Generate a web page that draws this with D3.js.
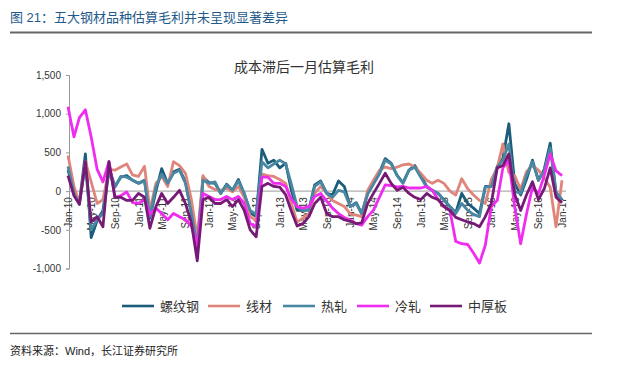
<!DOCTYPE html>
<html>
<head>
<meta charset="utf-8">
<script src="https://cdn.jsdelivr.net/npm/d3@7"></script>
<style>
  body { margin: 0; background: #fff; }
  svg { display: block; }
</style>
</head>
<body>
<div id="chart"></div>
<script>
// monthly estimates, Jan-10 .. Jan-17 (85 points)
var seriesNames = ["螺纹钢", "线材", "热轧", "冷轧", "中厚板"];
var seriesColors = ["#1b5d7a", "#e0857b", "#4a87a2", "#f02cf0", "#761a76"];

var rebar = [
  270, 0, -150, 480, -600, -380, -250, 300, 60, 180, 200, 140,
  100, 140, -350, 0, 290, 100, 250, 280, 120, -250, -750, 180,
  110, 100, -30, 90, 10, 150, -30, -280, -330, 540, 360, 400,
  300, 360, 20, -250, -250, -240, 80, 130, -30, -50, 130, 60,
  -200, -150, -290, -30, 100, 240, 420, 360, 200, 110, 270, 330,
  200, 60, 10, -30, -110, -200, -280, -30, -160, -220, -290, 60,
  60, 320, 420, 870, 100, -50, 150, 400, 140, 280, 620, -30,
  -120
];
var wire = [
  460, 60, -150, 380, 120, -160, -110, 280, 270, 310, 350, 210,
  190, 320, -250, 100, 190, 60, 380, 330, 230, -100, -600, 200,
  60, 20, 10, 40, -10, 60, -80, -330, -380, 220, 200, 190,
  150, 100, -150, -400, -350, -290, -30, 60, -30, -120, -160, -200,
  -290, -310, -330, 10, 140, 270, 310, 290, 310, 340, 350, 310,
  230, 140, 100, 140, 100, 0, -50, 160, 30, -50, -120, -160,
  150, 300, 610, 240, 200, 20, 250, 330, 270, 170, 50, -460,
  140
];
var hotRolled = [
  320, -30, -170, 350, -500, -370, -290, 250, 50, 190, 180, 140,
  100, 130, -330, 50, 220, 100, 230, 270, 100, -280, -700, 140,
  100, 120, -30, 80, 10, 130, -30, -250, -300, 380, 300, 350,
  400, 350, 100, -200, -250, -250, 60, 120, -30, -80, 10, -10,
  -200, -160, -290, -40, 90, 220, 400, 350, 200, 100, 270, 310,
  180, 50, 10, -30, -120, -200, -290, -160, -250, -300, -330, 50,
  60, 310, 400, 610, 0, -30, 200, 380, 140, 260, 560, -10,
  -110
];
var coldRolled = [
  1090, 700, 950, 1050, 700, 280, 120, 380, -80, -60, -10, -150,
  -160, -110, -300, -220, -290, -370, -290, -330, -370, -450, -700, -30,
  -70, -110, -110, -70, -110, -70, -160, -420, -460, 180, 180, 100,
  100, 60, -100, -200, -220, -200, -70, -30, -130, -220, -290, -340,
  -375, -420, -440, -330, -245, -80, 80, 70, 55, 60, 40, 40,
  40, 60, 10, -110, -200, -250, -650, -680, -690, -800, -930, -700,
  -200, -120, 300, 400, -200, -680, -300, 50, -30, 200, 480, 260,
  200
];
var plate = [
  200, -60, -170, 380, -400, -330, -460, 380, -80, -80, -120, -120,
  -30, -80, -480, -200, -30, -160, -80, 10, -160, -400, -900, -110,
  -80, -160, -160, -110, -200, -110, -250, -500, -590, 60, 100, 60,
  50, -50, -250, -450, -420, -330, -160, -80, -290, -330, -330, -370,
  -390, -420, -410, -160, -30, 100, 230, 100, 10, 50, -30, -80,
  -110, -30, -80, -110, -200, -250, -340, -370, -400, -420, -460, -330,
  -160, 300, 330, 480, -40, -250, -50, 120, -110, 30, 300, -80,
  -150
];
var yTicks = [-1000, -500, 0, 500, 1000, 1500];

var allSeries = [rebar, wire, hotRolled, coldRolled, plate];
var months = d3.timeMonth.range(new Date(2010, 0, 1), new Date(2017, 1, 1));
var xTickDates = d3.timeMonth.every(4).range(new Date(2010, 0, 1), new Date(2017, 0, 2));

var W = 620, H = 365;
var font = "'Liberation Sans', Arial, 'Noto Sans CJK SC', sans-serif";

var svg = d3.select("#chart").append("svg")
  .attr("width", W)
  .attr("height", H)
  .style("font-family", font);

svg.append("rect").attr("width", W).attr("height", H).attr("fill", "#fff");

// header
svg.append("text")
  .attr("x", 10)
  .attr("y", 22)
  .attr("fill", "#1f5a8a")
  .attr("font-size", 13)
  .text("图 21：五大钢材品种估算毛利并未呈现显著差异");

svg.append("line")
  .attr("x1", 10).attr("x2", 592)
  .attr("y1", 32.5).attr("y2", 32.5)
  .attr("stroke", "#666").attr("stroke-width", 2);

// chart title
svg.append("text")
  .attr("x", 304)
  .attr("y", 72)
  .attr("text-anchor", "middle")
  .attr("fill", "#333")
  .attr("font-size", 14)
  .text("成本滞后一月估算毛利");

var x = d3.scaleTime()
  .domain([new Date(2010, 0, 1), new Date(2017, 0, 1)])
  .range([68, 562]);

var y = d3.scaleLinear()
  .domain([-1000, 1500])
  .range([268.5, 75]);

// y axis
var yAxis = svg.append("g")
  .attr("transform", "translate(69,0)")
  .call(d3.axisLeft(y)
    .tickValues(yTicks)
    .tickSize(3)
    .tickPadding(5)
    .tickFormat(function (d) { return d3.format(",")(d).replace("\u2212", "-"); }));
yAxis.select(".domain").attr("stroke", "#999");
yAxis.selectAll(".tick line").attr("stroke", "#999");
yAxis.selectAll("text")
  .attr("fill", "#333")
  .attr("font-size", 10)
  .attr("font-family", font);

// zero line
svg.append("line")
  .attr("x1", 69).attr("x2", 566)
  .attr("y1", y(0)).attr("y2", y(0))
  .attr("stroke", "#999").attr("stroke-width", 1);

// x axis labels sit on the zero line
var xAxis = svg.append("g")
  .attr("transform", "translate(0," + y(0) + ")")
  .call(d3.axisBottom(x)
    .tickValues(xTickDates)
    .tickSize(0)
    .tickFormat(d3.timeFormat("%b-%y")));
xAxis.select(".domain").remove();
xAxis.selectAll("text")
  .attr("transform", "rotate(-90)")
  .attr("x", -6)
  .attr("y", 0)
  .attr("dy", "0.35em")
  .attr("text-anchor", "end")
  .attr("fill", "#333")
  .attr("font-size", 10)
  .attr("font-family", font);

// lines
var line = d3.line()
  .x(function (d, i) { return x(months[i]); })
  .y(function (d) { return y(d); });

svg.append("g")
  .selectAll("path")
  .data(allSeries)
  .join("path")
  .attr("d", line)
  .attr("fill", "none")
  .attr("stroke", function (d, i) { return seriesColors[i]; })
  .attr("stroke-width", 2.8)
  .attr("stroke-linejoin", "round");

// legend
var legendX = [122, 208, 283, 357, 430];
var legend = svg.append("g")
  .selectAll("g")
  .data(seriesNames)
  .join("g")
  .attr("transform", function (d, i) { return "translate(" + legendX[i] + ",306)"; });
legend.append("line")
  .attr("x1", 0).attr("x2", 32)
  .attr("stroke", function (d, i) { return seriesColors[i]; })
  .attr("stroke-width", 2.6);
legend.append("text")
  .attr("x", 38)
  .attr("dy", "0.35em")
  .attr("fill", "#333")
  .attr("font-size", 13)
  .text(function (d) { return d; });

// footer
svg.append("line")
  .attr("x1", 10).attr("x2", 592)
  .attr("y1", 333.5).attr("y2", 333.5)
  .attr("stroke", "#666").attr("stroke-width", 1.5);

svg.append("text")
  .attr("x", 10)
  .attr("y", 355)
  .attr("fill", "#222")
  .attr("font-size", 11)
  .text("资料来源：Wind，长江证券研究所");
</script>
</body>
</html>
